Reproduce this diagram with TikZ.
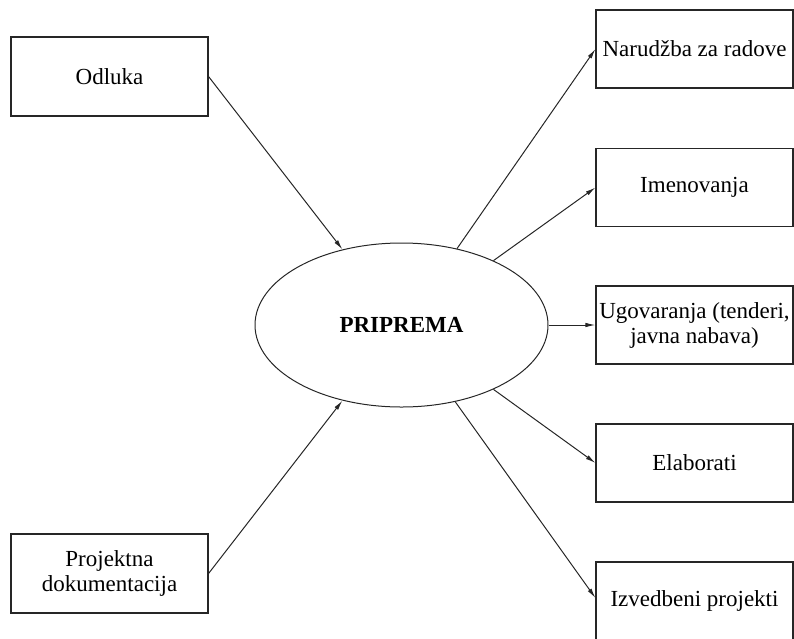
\documentclass[tikz,border=0pt]{standalone}
\usepackage{fontspec}
\setmainfont{Liberation Serif}
\usetikzlibrary{shapes.geometric,arrows.meta}
\begin{document}
\begin{tikzpicture}[x=1pt,y=-1pt,
  box/.style={draw=black!85,line width=1.1pt,rectangle,minimum width=197pt,minimum height=79pt,inner sep=2pt,align=center,font=\fontsize{23}{25}\selectfont},
  hub/.style={draw=black!85,line width=1pt,ellipse,minimum width=293pt,minimum height=164pt,inner sep=0pt,font=\fontsize{23}{25}\selectfont\bfseries},
  link/.style={draw=black!85,line width=1pt,-{Latex[length=10pt,width=4.5pt]}}]
\useasboundingbox (0,0) rectangle (794,638);
\begin{scope}
\clip (0,0) rectangle (794,638);
\node[hub] (p) at (401.5,325) {PRIPREMA};
\node[box] (odl) at (109.5,76.5) {Odluka};
\node[box] (pro) at (109.5,573.5) {Projektna\\dokumentacija};
\node[box,minimum height=78pt] (nar) at (694.5,49) {Narudžba za radove};
\node[box,minimum height=78pt] (ime) at (694.5,187.5) {Imenovanja};
\node[box,minimum height=78pt] (ugo) at (694.5,325) {Ugovaranja (tenderi,\\javna nabava)};
\node[box,minimum height=78pt] (ela) at (694.5,463) {Elaborati};
\node[box,minimum height=78pt,text height=16pt] (izv) at (694.5,601) {Izvedbeni projekti};
\draw[link] (odl.east) -- (p.128);
\draw[link] (pro.east) -- (p.-128.5);
\draw[link] (p.54.6) -- (nar.west);
\draw[link] (p.35) -- (ime.west);
\draw[link] (p.east) -- (ugo.west);
\draw[link] (p.-35) -- (ela.west);
\draw[link] (p.-55) -- ([yshift=3pt]izv.west);
\end{scope}
\end{tikzpicture}
\end{document}
